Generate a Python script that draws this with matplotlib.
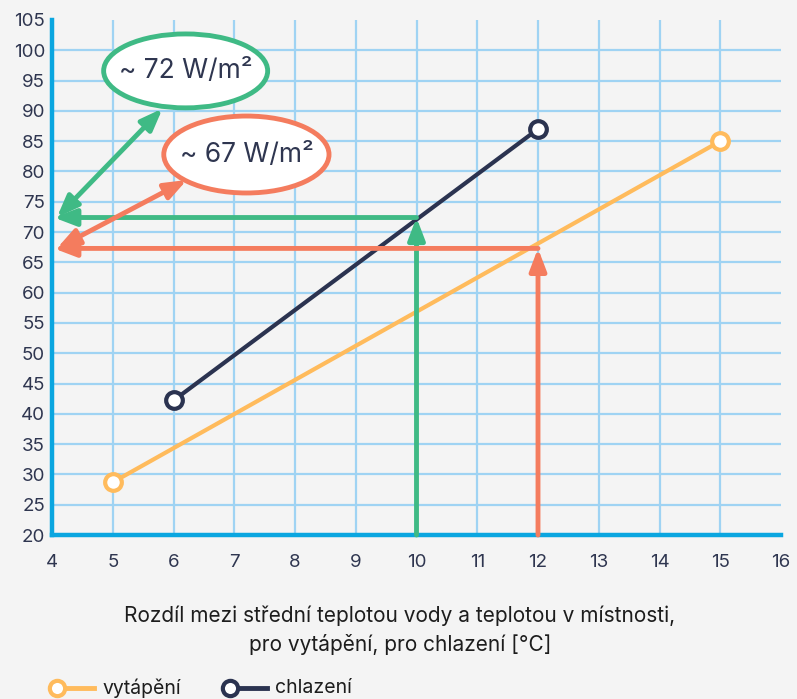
import matplotlib.pyplot as plt
from matplotlib.patches import Ellipse
from matplotlib.lines import Line2D

# data
heat_x = [5, 15]
heat_y = [28.7, 85.0]
cool_x = [6, 12]
cool_y = [42.2, 87.0]

green_x, green_y = 10, 72.4
coral_x, coral_y = 12, 67.3

xticks = list(range(4, 17))
yticks = list(range(20, 106, 5))

BG = "#f4f4f4"
NAVY = "#2b3350"
YELLOW = "#ffbb5c"
GREEN = "#3fba85"
CORAL = "#f47c5e"
GRID = "#9fd3f3"
AXIS = "#0aa6e0"
TXT = "#2f3650"

plt.rcParams['font.family'] = ['Inter', 'DejaVu Sans']

fig = plt.figure(figsize=(7.97, 6.99), dpi=100, facecolor=BG)
ax = fig.add_axes([52 / 797, 1 - 535 / 699, (781 - 52) / 797, (535 - 20) / 699])
ax.set_facecolor(BG)

ax.set_xlim(4, 16)
ax.set_ylim(20, 105)
ax.set_xticks(xticks)
ax.set_yticks(yticks)
ax.grid(True, color=GRID, lw=1.6, zorder=0)
ax.set_axisbelow(True)
for s in ["top", "right"]:
    ax.spines[s].set_visible(False)
for s in ["left", "bottom"]:
    ax.spines[s].set_color(AXIS)
    ax.spines[s].set_linewidth(3.2)
ax.tick_params(length=0, labelsize=13.5, labelcolor=TXT)
ax.tick_params(axis="x", pad=14)
ax.tick_params(axis="y", pad=5)
ax.yaxis.get_gridlines()[-1].set_visible(False)
ax.xaxis.get_gridlines()[-1].set_visible(False)

# series
ax.plot(heat_x, heat_y, color=YELLOW, lw=3, marker="o", ms=12, mfc="white",
        mec=YELLOW, mew=3, zorder=3, clip_on=False)
ax.plot(cool_x, cool_y, color=NAVY, lw=3, marker="o", ms=12, mfc="white",
        mec=NAVY, mew=3, zorder=3, clip_on=False)


# reading arrows
def arrow(x0, y0, x1, y1, color, style="-|>"):
    ax.annotate("", xy=(x1, y1), xytext=(x0, y0),
                arrowprops=dict(arrowstyle=style + ",head_length=1.1,head_width=0.42",
                                color=color, lw=3.5, mutation_scale=12,
                                shrinkA=0, shrinkB=0),
                zorder=4, annotation_clip=False)


arrow(green_x, 20, green_x, green_y, GREEN)
arrow(green_x, green_y, 4.03, green_y, GREEN)
arrow(coral_x, 20, coral_x, coral_y, CORAL)
arrow(coral_x, coral_y, 4.03, coral_y, CORAL)
arrow(4.08, green_y, 5.82, 90.4, GREEN, "<|-|>")
arrow(4.08, coral_y, 6.22, 78.6, CORAL, "<|-|>")

# value bubbles
ax.add_patch(Ellipse((6.2, 96.6), 2.70, 12.2, facecolor="white",
                     edgecolor=GREEN, lw=3.5, zorder=5))
ax.text(6.2, 96.6, "~ 72 W/m²", ha="center", va="center", fontsize=19,
        color=TXT, zorder=6)
ax.add_patch(Ellipse((7.2, 82.8), 2.72, 12.7, facecolor="white",
                     edgecolor=CORAL, lw=3.5, zorder=5))
ax.text(7.2, 82.8, "~ 67 W/m²", ha="center", va="center", fontsize=19,
        color=TXT, zorder=6)

# axis title
fig.text(400 / 797, 1 - 630 / 699,
         "Rozdíl mezi střední teplotou vody a teplotou v místnosti,\npro vytápění, pro chlazení [°C]",
         ha="center", va="center", fontsize=15, color="#1d1d1d", linespacing=1.5)

# legend (marker at the left end of a short line)
ly = 1 - 688 / 699
for x0, color, label in [(57, YELLOW, "vytápění"), (230, NAVY, "chlazení")]:
    fig.add_artist(Line2D([x0 / 797, (x0 + 37) / 797], [ly, ly], color=color, lw=3.5,
                          transform=fig.transFigure))
    fig.add_artist(Line2D([x0 / 797], [ly], marker="o", ms=11, mfc="white",
                          mec=color, mew=3, transform=fig.transFigure))
    fig.text((x0 + 45) / 797, ly, label, ha="left", va="center", fontsize=14,
             color="#1d1d1d")

fig.savefig("out.png", dpi=100, facecolor=BG)
